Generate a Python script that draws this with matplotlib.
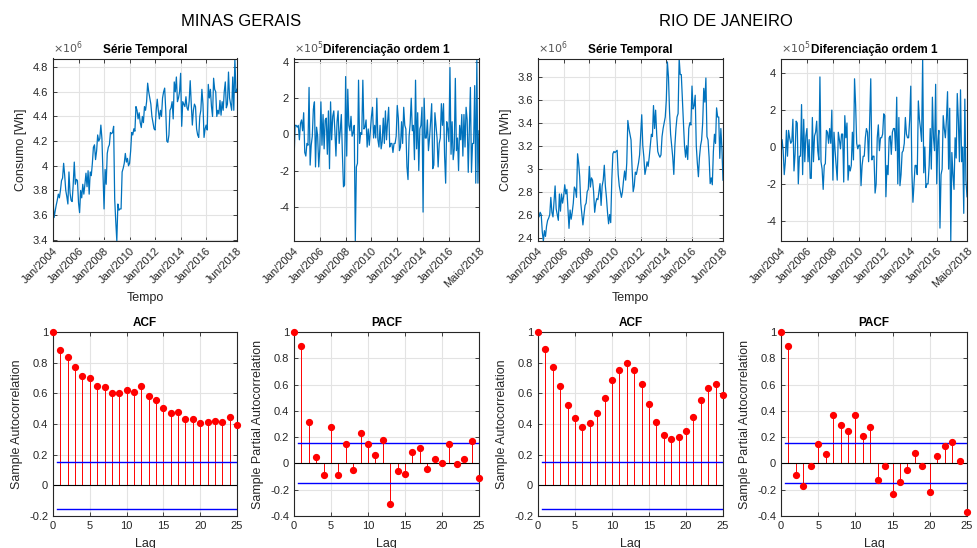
import numpy as np
import matplotlib.pyplot as plt
from matplotlib.ticker import FuncFormatter, FixedLocator

plt.rcParams['font.family'] = ['Liberation Sans', 'DejaVu Sans']

# consumo mensal jan/2004 .. jun/2018, em milhoes de Wh
mg_mwh = [
    3.73, 3.58, 3.63, 3.68, 3.72, 3.77, 3.74, 3.80, 3.88, 3.90, 4.02, 3.92,
    3.80, 3.75, 3.69, 3.95, 3.78, 3.72, 3.71, 3.85, 4.03, 3.85, 3.89, 3.88,
    3.70, 3.62, 3.80, 3.74, 3.85, 3.77, 3.85, 3.94, 3.83, 3.96, 3.77, 3.95,
    3.92, 4.02, 4.15, 4.17, 4.05, 4.12, 4.25, 4.20, 4.22, 4.33, 4.22, 3.93,
    3.65, 3.97, 3.85, 4.10, 4.15, 4.17, 4.27, 4.26, 4.27, 4.32, 3.73, 3.55,
    3.39, 3.69, 3.64, 3.65, 3.65, 3.95, 3.98, 4.02, 4.10, 4.03, 4.06, 4.00,
    4.02, 4.12, 4.27, 4.25, 4.30, 4.28, 4.48, 4.45, 4.38, 4.43, 4.35, 4.31,
    4.40, 4.35, 4.48, 4.45, 4.52, 4.67, 4.60, 4.55, 4.50, 4.40, 4.35, 4.30,
    4.29, 4.45, 4.54, 4.45, 4.38, 4.45, 4.40, 4.55, 4.60, 4.63, 4.45, 4.20,
    4.19, 4.25, 4.45, 4.47, 4.52, 4.38, 4.68, 4.60, 4.72, 4.52, 4.55, 4.60,
    4.75, 4.32, 4.52, 4.50, 4.48, 4.56, 4.47, 4.45, 4.52, 4.69, 4.50, 4.33,
    4.45, 4.50, 4.48, 4.30, 4.25, 4.23, 4.40, 4.45, 4.62, 4.50, 4.23, 4.30,
    4.33, 4.29, 4.66, 4.55, 4.62, 4.48, 4.40, 4.71, 4.62, 4.60, 4.40, 4.45,
    4.42, 4.53, 4.41, 4.52, 4.45, 4.60, 4.68, 4.47, 4.50, 4.76, 4.55, 4.50,
    4.45, 4.72, 4.45, 4.87, 4.60, 4.62,
]
rj_mwh = [
    2.63, 2.58, 2.62, 2.60, 2.45, 2.37, 2.46, 2.41, 2.50, 2.55, 2.57, 2.60,
    2.75, 2.62, 2.58, 2.72, 2.85, 2.65, 2.60, 2.55, 2.78, 2.63, 2.78, 2.70,
    2.76, 2.86, 2.78, 2.82, 2.65, 2.48, 2.64, 2.56, 2.62, 2.70, 2.84, 2.82,
    2.75, 3.13, 3.05, 2.93, 2.70, 2.60, 2.51, 2.60, 2.68, 2.70, 2.80, 2.82,
    3.02, 2.84, 2.92, 2.90, 2.80, 2.62, 2.70, 2.74, 2.73, 2.80, 2.87, 2.68,
    2.85, 2.90, 3.03, 2.85, 2.75, 2.62, 2.52, 2.60, 2.53, 2.90, 3.13, 3.15,
    3.14, 3.15, 3.16, 2.95, 2.85, 2.80, 2.75, 2.80, 2.90, 2.98, 2.90, 3.05,
    3.42, 3.35, 3.30, 3.25, 3.00, 2.80, 2.85, 2.97, 2.95, 3.00, 3.05, 3.12,
    3.30, 3.47, 3.20, 3.10, 2.95, 3.00, 3.06, 3.02, 3.10, 3.20, 3.30, 3.28,
    3.55, 3.35, 3.51, 3.30, 3.15, 3.12, 3.10, 3.12, 3.28, 3.35, 3.40, 3.45,
    3.60, 3.93, 3.80, 3.50, 3.30, 3.20, 3.10, 2.95, 3.20, 3.35, 3.45, 3.48,
    3.96, 3.82, 3.82, 3.60, 3.40, 3.20, 3.10, 3.20, 3.08, 3.35, 3.40, 3.38,
    3.72, 3.52, 3.55, 3.64, 3.20, 3.05, 2.93, 3.10, 3.20, 3.25, 3.40, 3.70,
    3.58, 3.79, 3.28, 3.25, 3.10, 2.87, 2.92, 2.86, 3.15, 3.30, 3.22, 3.53,
    3.45, 3.45, 3.09, 3.35, 3.17, 2.90,
]

serie_ticks = ['Jan/2004', 'Jan/2006', 'Jan/2008', 'Jan/2010', 'Jan/2012',
               'Jan/2014', 'Jan/2016', 'Jun/2018']
diff_ticks = serie_ticks[:-1] + ['Maio/2018']

lags = np.arange(26)
acf_mg = [1, 0.88, 0.835, 0.77, 0.71, 0.70, 0.645, 0.64, 0.60, 0.605, 0.62,
          0.61, 0.645, 0.58, 0.555, 0.505, 0.475, 0.48, 0.435, 0.43, 0.405,
          0.41, 0.42, 0.41, 0.445, 0.395]
pacf_mg = [1, 0.89, 0.315, 0.05, -0.09, 0.275, -0.09, 0.145, -0.05, 0.235,
           0.145, 0.065, 0.175, -0.31, -0.055, -0.08, 0.085, 0.12, -0.045,
           0.035, 0.005, 0.15, -0.005, 0.03, 0.17, -0.11]
acf_rj = [1, 0.89, 0.775, 0.645, 0.525, 0.44, 0.38, 0.405, 0.475, 0.57, 0.685,
          0.755, 0.80, 0.75, 0.66, 0.53, 0.415, 0.33, 0.30, 0.315, 0.355,
          0.445, 0.555, 0.635, 0.66, 0.59]
pacf_rj = [1, 0.89, -0.09, -0.17, -0.02, 0.145, 0.075, 0.37, 0.295, 0.245,
           0.365, 0.21, 0.275, -0.125, -0.02, -0.235, -0.14, -0.05, 0.08,
           -0.02, -0.22, 0.06, 0.135, 0.165, 0.02, -0.37]
conf = 0.152

AXC = '#262626'
BLUE = '#0072BD'


def estilo(ax):
    ax.grid(True, color='#e3e3e3', lw=0.8)
    ax.set_axisbelow(True)
    ax.tick_params(direction='in', length=3, width=0.6, labelsize=8,
                   colors=AXC, top=True, right=True)
    for s in ax.spines.values():
        s.set_color(AXC)
        s.set_linewidth(0.8)


def serie(ax, y, labels, escala, expo, yticks, titulo, ylabel=None, xlabel=None):
    x = np.arange(len(y))
    ax.plot(x, y, color=BLUE, lw=0.9)
    ax.set_xlim(0, len(y) - 1)
    ax.set_ylim(y.min(), y.max())
    pos = [0, 24, 48, 72, 96, 120, 144, len(y) - 1]
    ax.xaxis.set_major_locator(FixedLocator(pos))
    ax.set_xticklabels(labels, rotation=45, ha='right', rotation_mode='anchor')
    ax.yaxis.set_major_locator(FixedLocator(np.array(yticks) * escala))
    ax.yaxis.set_major_formatter(FuncFormatter(lambda v, p: '%g' % round(v / escala, 6)))
    estilo(ax)
    ax.text(0, 1.015, r'$\times10^{%d}$' % expo, transform=ax.transAxes,
            fontsize=8, color='#555555', va='bottom', ha='left')
    ax.set_title(titulo, fontsize=8.5, fontweight='bold', pad=4)
    if ylabel:
        ax.set_ylabel(ylabel, fontsize=9, color=AXC)
    if xlabel:
        ax.set_xlabel(xlabel, fontsize=9, color=AXC, labelpad=5)


def correl(ax, vals, ylo, titulo, ylabel):
    ax.vlines(lags, 0, vals, color='red', lw=0.7)
    ax.plot(lags, vals, 'o', color='red', ms=4.2, clip_on=False, zorder=4)
    ax.axhline(0, color='black', lw=0.8)
    ax.plot([0.5, lags[-1]], [conf, conf], color='blue', lw=1)
    ax.plot([0.5, lags[-1]], [-conf, -conf], color='blue', lw=1)
    ax.set_xlim(0, lags[-1])
    ax.set_ylim(ylo, 1)
    ax.set_xticks(np.arange(0, 26, 5))
    ax.set_yticks(np.round(np.arange(ylo, 1.01, 0.2), 1))
    ax.yaxis.set_major_formatter(FuncFormatter(lambda v, p: '%g' % round(v, 2)))
    estilo(ax)
    ax.set_title(titulo, fontsize=8.5, fontweight='bold', pad=4)
    ax.set_ylabel(ylabel, fontsize=9, color=AXC)
    ax.set_xlabel('Lag', fontsize=9, color=AXC, labelpad=5)


fig = plt.figure(figsize=(9.78, 5.48), dpi=100)
W, H = 978, 548


def eixo(l, t, r, b):
    return fig.add_axes([l / W, 1 - b / H, (r - l) / W, (b - t) / H])


mg = np.array(mg_mwh) * 1e6
rj = np.array(rj_mwh) * 1e6

ax = eixo(53, 58.5, 237, 241)
serie(ax, mg, serie_ticks, 1e6, 6, np.arange(3.4, 4.81, 0.2), 'Série Temporal',
      'Consumo [Wh]', 'Tempo')
ax = eixo(294, 58.5, 479, 241)
serie(ax, np.diff(mg), diff_ticks, 1e5, 5, [-4, -2, 0, 2, 4], 'Diferenciação ordem 1')
ax = eixo(538, 58.5, 723, 241)
serie(ax, rj, serie_ticks, 1e6, 6, np.arange(2.4, 3.81, 0.2), 'Série Temporal',
      'Consumo [Wh]', 'Tempo')
ax = eixo(781, 58.5, 967, 241)
serie(ax, np.diff(rj), diff_ticks, 1e5, 5, [-4, -2, 0, 2, 4], 'Diferenciação ordem 1')

ax = eixo(53, 332, 237, 516)
correl(ax, acf_mg, -0.2, 'ACF', 'Sample Autocorrelation')
ax = eixo(294, 332, 479, 516)
correl(ax, pacf_mg, -0.4, 'PACF', 'Sample Partial Autocorrelation')
ax = eixo(538, 332, 723, 516)
correl(ax, acf_rj, -0.2, 'ACF', 'Sample Autocorrelation')
ax = eixo(781, 332, 967, 516)
correl(ax, pacf_rj, -0.4, 'PACF', 'Sample Partial Autocorrelation')

fig.text(241 / W, 1 - 22 / H, 'MINAS GERAIS', fontsize=12, ha='center', va='center', color='black')
fig.text(726 / W, 1 - 22 / H, 'RIO DE JANEIRO', fontsize=12, ha='center', va='center', color='black')

fig.savefig('out.png', dpi=100)
